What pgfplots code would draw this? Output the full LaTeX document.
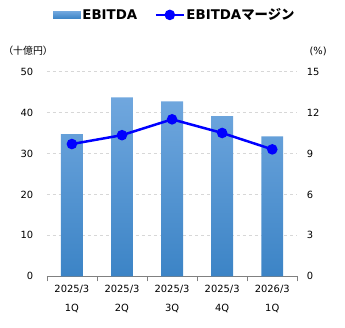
\documentclass[border=0pt]{standalone}
\usepackage{pgfplots}
\pgfplotsset{compat=1.18}
\usepackage{fontspec}
\setmainfont{DejaVu Sans}
\newfontfamily\jp{Noto Sans CJK JP}
\definecolor{bartop}{RGB}{112,167,222}
\definecolor{barbot}{RGB}{60,132,198}
\definecolor{gridc}{RGB}{215,215,215}
\definecolor{axc}{RGB}{128,128,128}
\begin{document}
\begin{tikzpicture}[x=1bp,y=1bp]
\path (0,0) rectangle (345,330);
\begin{axis}[
  at={(45bp,52bp)}, anchor=south west,
  scale only axis, width=252bp, height=206bp,
  /pgf/number format/assume math mode=true,
  xmin=-0.5, xmax=4.5, ymin=0, ymax=50,
  ytick={0,10,20,30,40,50},
  xtick={0,1,2,3,4},
  xticklabels={{2025/3\\[7bp]1Q},{2025/3\\[7bp]2Q},{2025/3\\[7bp]3Q},{2025/3\\[7bp]4Q},{2026/3\\[7bp]1Q}},
  minor xtick={-0.5,0.5,1.5,2.5,3.5,4.5},
  major x tick style={draw=none},
  minor x tick style={axc},
  tick align=outside,
  minor tick length=5bp,
  axis x line*=bottom,
  axis y line*=left,
  y axis line style={draw=none},
  x axis line style={axc,-},
  ymajorgrids, grid style={gridc, dashed, line width=0.4pt},
  ytick style={draw=none},
  yticklabel style={font=\fontsize{10}{12}\selectfont, xshift=-6bp},
  xticklabel style={font=\fontsize{10}{12}\selectfont, align=center, yshift=-1bp},
  clip=false,
]
\addplot[ybar, bar width=22bp, draw=none, top color=bartop, bottom color=barbot] coordinates {(0,34.7) (1,43.7) (2,42.7) (3,39.1) (4,34.2)};
\node[font=\jp\fontsize{10}{12}\selectfont] at (rel axis cs:-0.075,1.1) {（十億円）};
\node[font=\fontsize{10}{12}\selectfont] at (rel axis cs:1.083,1.1) {(\%)};
\end{axis}
\begin{axis}[
  at={(45bp,52bp)}, anchor=south west,
  scale only axis, width=252bp, height=206bp,
  /pgf/number format/assume math mode=true,
  xmin=-0.5, xmax=4.5, ymin=0, ymax=15,
  ytick={0,3,6,9,12,15},
  axis x line=none,
  axis y line*=right,
  y axis line style={draw=none},
  ytick style={draw=none},
  yticklabel style={font=\fontsize{10}{12}\selectfont, xshift=6bp},
  clip=false,
  legend style={at={(rel axis cs:0.51,1)}, anchor=center, yshift=57bp, draw=none, fill=none,
    legend columns=2, font=\bfseries\fontsize{13.5}{15}\selectfont,
    /tikz/every even column/.append style={column sep=16bp},
    nodes={inner xsep=1.5bp}},
  legend cell align=left,
]
\addlegendimage{legend image code/.code={\fill[draw=none, top color=bartop, bottom color=barbot] (0bp,-3.5bp) rectangle (28bp,3.5bp);}}
\addlegendentry{EBITDA}
\addplot[blue, line width=2.5bp, mark=*, mark size=4bp, mark options={fill=blue},
  legend image code/.code={\draw[blue, line width=2.5bp] (0bp,0bp) -- (28bp,0bp); \fill[blue] (14bp,0bp) circle (4bp);}]
  coordinates {(0,9.69) (1,10.34) (2,11.5) (3,10.5) (4,9.3)};
\addlegendentry{EBITDA{\jp マージン}}
\end{axis}
\end{tikzpicture}
\end{document}
